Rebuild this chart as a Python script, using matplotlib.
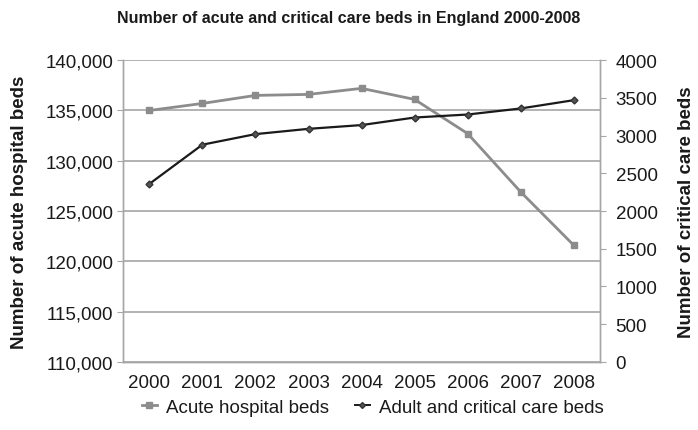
import matplotlib.pyplot as plt
from matplotlib.lines import Line2D

plt.rcParams['font.family'] = ['Liberation Sans', 'DejaVu Sans']

years = ['2000', '2001', '2002', '2003', '2004', '2005', '2006', '2007', '2008']
acute_beds = [135000, 135700, 136500, 136600, 137200, 136100, 132700, 126900, 121600]
critical_beds = [2360, 2880, 3020, 3090, 3140, 3240, 3280, 3360, 3470]

left_ticks = [110000, 115000, 120000, 125000, 130000, 135000, 140000]
right_ticks = [0, 500, 1000, 1500, 2000, 2500, 3000, 3500, 4000]

grey = '#8c8c8c'
axis_col = '#a6a6a6'
txt = '#1a1a1a'

fig = plt.figure(figsize=(6.98, 4.31), dpi=100)
ax = fig.add_axes([0.176, 0.158, 0.684, 0.7])
ax2 = ax.twinx()

x = list(range(len(years)))

ax.plot(x, acute_beds, color=grey, lw=2, marker='s', ms=5, label='Acute hospital beds', zorder=3)
ax2.plot(x, critical_beds, color='#1a1a1a', lw=1.6, marker='D', ms=3.5,
         mfc='#555555', mec='#333333', label='Adult and critical care beds', zorder=3)

ax.set_xlim(-0.5, len(years) - 0.5)
ax.set_xticks(x)
ax.set_xticklabels(years)
ax.set_ylim(110000, 140000)
ax.set_yticks(left_ticks)
ax.set_yticklabels([f'{v:,}' for v in left_ticks])
ax2.set_ylim(0, 4000)
ax2.set_yticks(right_ticks)

ax.grid(axis='y', color=axis_col, lw=1.2)
ax.set_axisbelow(True)

for a in (ax, ax2):
    a.spines['top'].set_visible(False)
    for s in ('left', 'right', 'bottom'):
        a.spines[s].set_color(axis_col)
        a.spines[s].set_linewidth(1)

ax.tick_params(axis='x', length=0, labelsize=13.5, pad=9, colors=txt)
ax.tick_params(axis='y', length=4, color=axis_col, labelsize=13.5, pad=3, labelcolor=txt)
ax2.tick_params(axis='y', length=4, color=axis_col, labelsize=13.5, pad=7, labelcolor=txt)

ax.set_ylabel('Number of acute hospital beds', fontsize=13.5, fontweight='bold', labelpad=12, color=txt)
ax2.set_ylabel('Number of critical care beds', fontsize=13.5, fontweight='bold', labelpad=14.5, color=txt)

fig.suptitle('Number of acute and critical care beds in England 2000-2008',
             fontsize=11.5, fontweight='bold', y=0.975, x=0.499, color=txt)

handles = [
    Line2D([], [], color=grey, lw=2, marker='s', ms=4),
    Line2D([], [], color='#1a1a1a', lw=1.4, marker='D', ms=3, mfc='#555555', mec='#333333'),
]
leg = fig.legend(handles, ['Acute hospital beds', 'Adult and critical care beds'],
                 loc='center', bbox_to_anchor=(0.534, 0.053), ncol=2, frameon=False,
                 fontsize=13.5, handlelength=0.8, columnspacing=1.35, handletextpad=0.5)
for t in leg.get_texts():
    t.set_color(txt)

fig.savefig('out.png', dpi=100)
